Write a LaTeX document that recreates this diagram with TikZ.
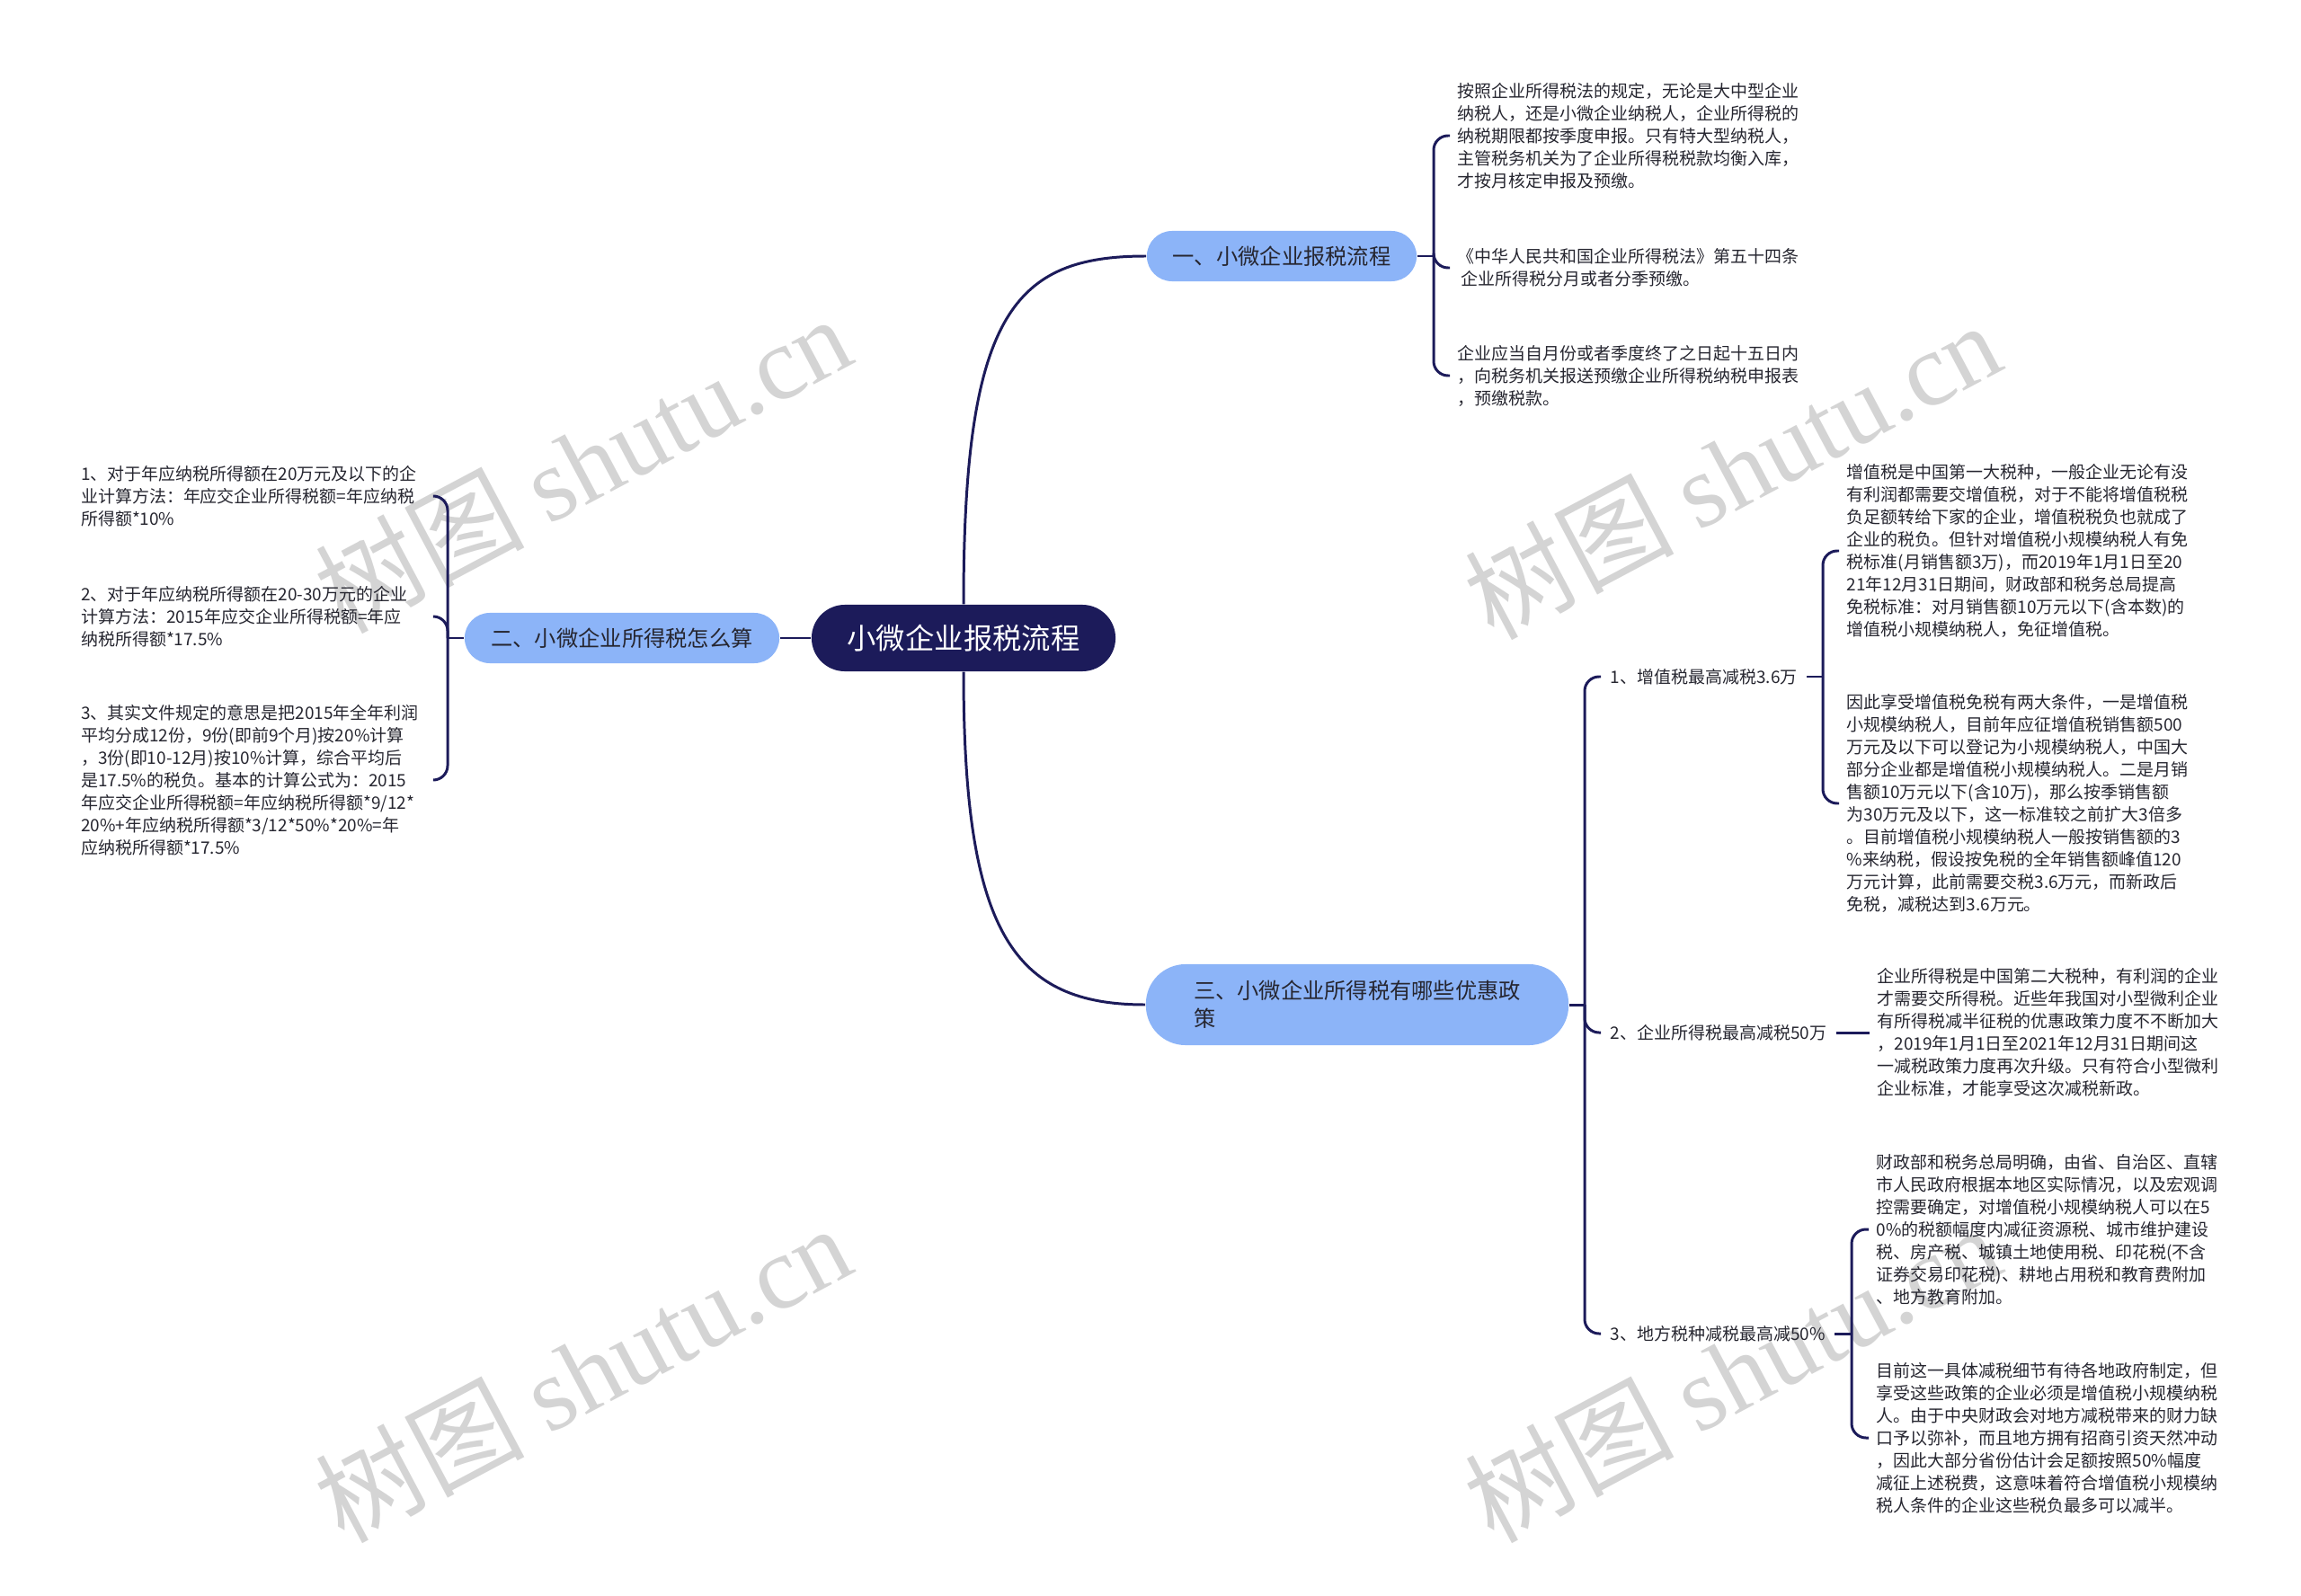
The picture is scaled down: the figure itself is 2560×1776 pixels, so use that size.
\documentclass[tikz,border=0pt]{standalone}
\usepackage{fontspec}
\setmainfont{Noto Sans CJK SC}
\newfontfamily\wmlatin{Liberation Serif}
\definecolor{navy}{RGB}{28,27,90}
\definecolor{lightblue}{RGB}{140,180,248}
\definecolor{inkdark}{RGB}{38,38,48}
\definecolor{wmgray}{RGB}{212,212,212}

\begin{document}
\begin{tikzpicture}[
        x=0.01cm, y=-0.01cm,
        rootbox/.style={
            fill=navy,
            text=white,
            rounded corners=0.37cm,
            minimum width=3.38cm,
            minimum height=0.74cm,
            font=\fontsize{9.2}{11}\selectfont
        },
        branchbox/.style={
            fill=lightblue,
            text=inkdark,
            rounded corners=0.28cm,
            minimum height=0.56cm,
            font=\fontsize{6.9}{8.8}\selectfont
        },
        leaftext/.style={
            align=left,
            inner xsep=0.08cm,
            inner ysep=0pt,
            text=inkdark,
            font=\fontsize{5.4}{7.1}\selectfont
        },
        tagtext/.style={
            leaftext,
            anchor=west,
            inner xsep=0.1cm
        },
        watermark/.style={
            rotate=28,
            text=wmgray,
            font=\fontsize{33}{36}\selectfont
        },
        linkline/.style={draw=navy, line width=0.85pt},
        bracket/.style={linkline, rounded corners=0.16cm}
    ]
    \useasboundingbox (0,0) rectangle (2560,1776);

    % Marcas de agua
    \foreach \wx/\wy [count=\i] in {648/515, 1927/522, 648/1527, 1927/1527}
        \node[watermark] (wm\i) at (\wx,\wy) {树图 {\wmlatin shutu.cn}};

    % Nodo central y ramas
    \node[rootbox] (root) at (1072,710) {小微企业报税流程};
    \node[branchbox, minimum width=3.0cm] (b1) at (1426,285) {一、小微企业报税流程};
    \node[branchbox, minimum width=3.5cm] (b2) at (692,710) {二、小微企业所得税怎么算};
    \node[branchbox, minimum width=4.7cm, minimum height=0.9cm, rounded corners=0.44cm, align=left]
        (b3) at (1510,1118) {三、小微企业所得税有哪些优惠政\\策};

    \draw[linkline] (root.north) .. controls +(0,-324) and +(-147,0) .. (b1.west);
    \draw[linkline] (root.south) .. controls +(0,290) and +(-147,0) .. (b3.west);
    \draw[linkline] (root.west) -- (b2.east);

    % Rama 1
    \coordinate (j1) at (1595,285);
    \node[leaftext, anchor=west] (d11) at (1613,151) {按照企业所得税法的规定，无论是大中型企业\\纳税人，还是小微企业纳税人，企业所得税的\\纳税期限都按季度申报。只有特大型纳税人，\\主管税务机关为了企业所得税税款均衡入库，\\才按月核定申报及预缴。};
    \node[leaftext, anchor=west] (d12) at (1613,298) {《中华人民共和国企业所得税法》第五十四条\\\ 企业所得税分月或者分季预缴。};
    \node[leaftext, anchor=west] (d13) at (1613,418) {企业应当自月份或者季度终了之日起十五日内\\，向税务机关报送预缴企业所得税纳税申报表\\，预缴税款。};
    \draw[linkline] (b1.east) -- (j1);
    \foreach \d in {d11,d12,d13}
        \draw[bracket] (j1) |- (\d.west);

    % Rama 2
    \coordinate (j2) at (498,710);
    \node[leaftext, anchor=east, text width=3.85cm] (d21) at (484,552) {1、对于年应纳税所得额在20万元及以下的企\\业计算方法：年应交企业所得税额=年应纳税\\所得额*10\%};
    \node[leaftext, anchor=east, text width=3.85cm] (d22) at (484,686) {2、对于年应纳税所得额在20-30万元的企业\\计算方法：2015年应交企业所得税额=年应\\纳税所得额*17.5\%};
    \node[leaftext, anchor=east, text width=3.85cm] (d23) at (484,868) {3、其实文件规定的意思是把2015年全年利润\\平均分成12份，9份(即前9个月)按20\%计算\\，3份(即10-12月)按10\%计算，综合平均后\\是17.5\%的税负。基本的计算公式为：2015\\年应交企业所得税额=年应纳税所得额*9/12*\\20\%+年应纳税所得额*3/12*50\%*20\%=年\\应纳税所得额*17.5\%};
    \draw[linkline] (b2.west) -- (j2);
    \foreach \d in {d21,d22,d23}
        \draw[bracket] (j2) |- (\d.east);

    % Rama 3
    \coordinate (j3) at (1763,1118);
    \node[tagtext] (t1) at (1781,753) {1、增值税最高减税3.6万};
    \node[tagtext] (t2) at (1781,1149) {2、企业所得税最高减税50万};
    \node[tagtext] (t3) at (1781,1484) {3、地方税种减税最高减50\%};
    \draw[linkline] (b3.east) -- (j3);
    \foreach \t in {t1,t2,t3}
        \draw[bracket] (j3) |- (\t.west);

    \coordinate (j31) at (2028,753);
    \node[leaftext, anchor=west] (d31a) at (2046,613) {增值税是中国第一大税种，一般企业无论有没\\有利润都需要交增值税，对于不能将增值税税\\负足额转给下家的企业，增值税税负也就成了\\企业的税负。但针对增值税小规模纳税人有免\\税标准(月销售额3万)，而2019年1月1日至20\\21年12月31日期间，财政部和税务总局提高\\免税标准：对月销售额10万元以下(含本数)的\\增值税小规模纳税人，免征增值税。};
    \node[leaftext, anchor=west] (d31b) at (2046,894) {因此享受增值税免税有两大条件，一是增值税\\小规模纳税人，目前年应征增值税销售额500\\万元及以下可以登记为小规模纳税人，中国大\\部分企业都是增值税小规模纳税人。二是月销\\售额10万元以下(含10万)，那么按季销售额\\为30万元及以下，这一标准较之前扩大3倍多\\。目前增值税小规模纳税人一般按销售额的3\\\%来纳税，假设按免税的全年销售额峰值120\\万元计算，此前需要交税3.6万元，而新政后\\免税，减税达到3.6万元。};
    \draw[linkline] (t1.east) -- (j31);
    \foreach \d in {d31a,d31b}
        \draw[bracket] (j31) |- (\d.west);

    \node[leaftext, anchor=west] (d32) at (2080,1149) {企业所得税是中国第二大税种，有利润的企业\\才需要交所得税。近些年我国对小型微利企业\\有所得税减半征税的优惠政策力度不不断加大\\，2019年1月1日至2021年12月31日期间这\\一减税政策力度再次升级。只有符合小型微利\\企业标准，才能享受这次减税新政。};
    \draw[linkline] (t2.east) -- (d32.west);

    \coordinate (j33) at (2060,1484);
    \node[leaftext, anchor=west] (d33a) at (2079,1368) {财政部和税务总局明确，由省、自治区、直辖\\市人民政府根据本地区实际情况，以及宏观调\\控需要确定，对增值税小规模纳税人可以在5\\0\%的税额幅度内减征资源税、城市维护建设\\税、房产税、城镇土地使用税、印花税(不含\\证券交易印花税)、耕地占用税和教育费附加\\、地方教育附加。};
    \node[leaftext, anchor=west] (d33b) at (2079,1600) {目前这一具体减税细节有待各地政府制定，但\\享受这些政策的企业必须是增值税小规模纳税\\人。由于中央财政会对地方减税带来的财力缺\\口予以弥补，而且地方拥有招商引资天然冲动\\，因此大部分省份估计会足额按照50\%幅度\\减征上述税费，这意味着符合增值税小规模纳\\税人条件的企业这些税负最多可以减半。};
    \draw[linkline] (t3.east) -- (j33);
    \foreach \d in {d33a,d33b}
        \draw[bracket] (j33) |- (\d.west);

\end{tikzpicture}
\end{document}
